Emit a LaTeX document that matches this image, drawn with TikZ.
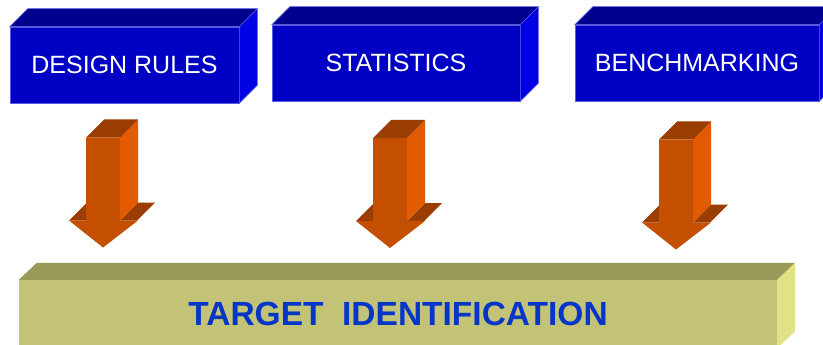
\documentclass[tikz,border=0pt]{standalone}
\usepackage{fontspec}
\setmainfont{Liberation Sans}
\usepackage{xcolor}
\usetikzlibrary{positioning}

\definecolor{boxfront}{HTML}{0000C4}
\definecolor{boxtop}{HTML}{00008E}
\definecolor{boxside}{HTML}{0000E2}
\definecolor{boxedge}{HTML}{5A5AE6}
\definecolor{arrfront}{HTML}{C44F00}
\definecolor{arrside}{HTML}{E35B00}
\definecolor{arrtop}{HTML}{9A3D00}
\definecolor{barfront}{HTML}{C3C378}
\definecolor{bartop}{HTML}{9A9A5A}
\definecolor{barside}{HTML}{E1E187}
\definecolor{bartext}{HTML}{0536C8}

\begin{document}
\begin{tikzpicture}[
  x=1pt, y=-1pt,
  source/.style={fill=boxfront, draw=boxedge, line width=0.5pt,
                 minimum height=76pt, inner sep=0pt, text=white,
                 font=\fontsize{25}{30}\selectfont},
  srctop/.style={fill=boxtop, draw=boxedge, line width=0.5pt},
  srcside/.style={fill=boxside, draw=boxedge, line width=0.5pt},
  target/.style={fill=barfront, minimum width=758pt, minimum height=68pt,
                 inner sep=0pt, text=bartext,
                 font=\fontsize{33.5}{40}\selectfont\bfseries},
  tgttop/.style={fill=bartop},
  tgtside/.style={fill=barside},
  arrfront/.style={fill=arrfront},
  arrtop/.style={fill=arrtop},
  arrside/.style={fill=arrside}
]
\clip (0,0) rectangle (823,345);
% --- sources (top row) ---
\node[source, minimum width=229pt] (design) at (124.5,65) {DESIGN RULES};
\node[source, minimum width=248pt] (stats) at (396,63) {STATISTICS};
\node[source, minimum width=244pt] (bench) at (697,63) {BENCHMARKING};
\foreach \n in {design,stats,bench}{
  \draw[srctop] (\n.north west) -- ++(18,-18) -- ([shift={(18,-18)}]\n.north east)
    -- (\n.north east) -- cycle;
  \draw[srcside] (\n.north east) -- ++(18,-18) -- ([shift={(18,-18)}]\n.south east)
    -- (\n.south east) -- cycle;
}
% --- target (bottom bar) ---
\node[target] (tgt) at (398,314) {TARGET\ \ IDENTIFICATION};
\fill[tgttop] (tgt.north west) -- ++(18,-17) -- ([shift={(18,-17)}]tgt.north east)
  -- (tgt.north east) -- cycle;
\fill[tgtside] (tgt.north east) -- ++(18,-17) -- ([shift={(18,-17)}]tgt.south east)
  -- (tgt.south east) -- cycle;
% --- 3d arrows ---
\foreach \cx/\ty in {103/137.5, 390/138, 676/139.5}{
  % head tops
  \fill[arrtop] (\cx-34,\ty+83) -- ++(18,-18) -- ++(34,0) -- ++(-18,18) -- cycle;
  \fill[arrtop] (\cx+17,\ty+83) -- ++(18,-18) -- ++(17,0) -- ++(-18,18) -- cycle;
  % shaft side and top
  \fill[arrside] (\cx+17,\ty) -- ++(18,-18) -- ++(0,83) -- (\cx+17,\ty+83) -- cycle;
  \fill[arrtop] (\cx-17,\ty) -- ++(18,-18) -- ++(34,0) -- (\cx+17,\ty) -- cycle;
  % front face
  \fill[arrfront] (\cx-17,\ty) -- (\cx+17,\ty) -- (\cx+17,\ty+83) -- (\cx+35,\ty+83)
    -- (\cx,\ty+110) -- (\cx-34,\ty+83) -- (\cx-17,\ty+83) -- cycle;
}
\end{tikzpicture}
\end{document}
